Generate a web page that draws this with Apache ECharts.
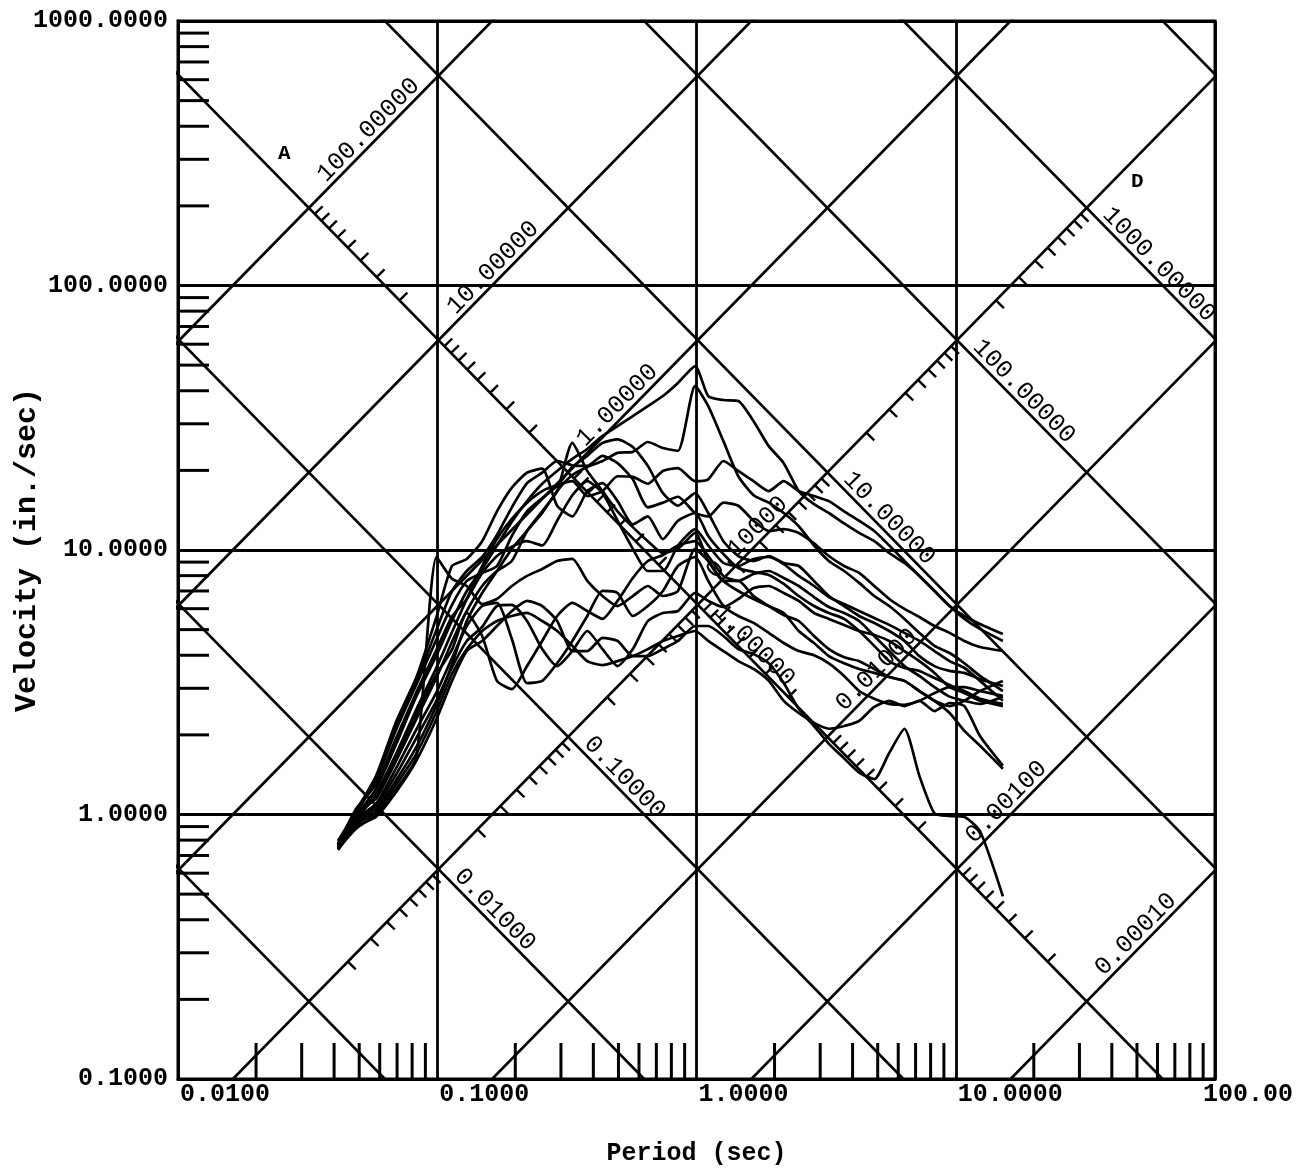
<!DOCTYPE html>
<html>
<head>
<meta charset="utf-8">
<title>Tripartite response spectra</title>
<script src="https://cdn.jsdelivr.net/npm/echarts@6/dist/echarts.min.js"></script>
<style>
html,body{margin:0;padding:0;background:#ffffff;}
#chart{width:1309px;height:1169px;}
</style>
</head>
<body>
<div id="chart"></div>
<script>
// ---------------- data ----------------
const periods = [0.0414,0.0486,0.0581,0.0695,0.0831,0.0994,0.114,0.130,0.149,0.170,0.194,0.222,0.254,0.290,0.332,0.379,0.434,0.496,0.568,0.649,0.742,0.848,0.988,1.11,1.27,1.45,1.66,1.90,2.17,2.48,2.84,3.24,3.71,4.24,4.85,5.54,6.34,7.24,8.28,9.47,10.8,12.4,15.2];

const spectrum01 = [0.754,0.987,1.25,1.85,2.8,4.0,5.4,7.00,8.48,10.4,12.8,15.3,17.8,19.9,22.1,24.1,27.0,29.4,32.1,35.0,38.2,42.8,49.6,38.2,36.9,36.6,30.7,24.7,21.3,16.7,14.9,13.8,12.6,11.6,10.8,9.74,8.93,7.98,7.00,6.14,5.63,5.25,4.81];
const spectrum02 = [0.741,0.930,1.05,1.35,1.8,2.6,3.7,5.39,6.88,8.33,10.1,11.8,13.8,16.7,19.2,20.6,21.7,23.3,23.5,25.6,24.3,23.7,41.7,35.0,25.8,19.0,16.1,15.1,13.8,12.3,10.4,9.09,8.33,7.51,6.70,6.14,5.49,4.86,4.34,4.08,3.73,3.34,2.93];
const spectrum03 = [0.794,1.01,1.15,1.6,2.3,3.3,4.5,5.88,7.31,8.33,9.09,11.8,14.0,16.7,25.4,19.9,16.7,14.0,12.2,10.8,9.74,10.1,11.6,9.09,7.64,7.00,6.53,6.14,5.78,4.94,4.45,3.97,3.73,3.55,3.43,3.31,3.20,2.93,2.69,2.57,2.69,2.93,3.20];
const spectrum04 = [0.775,1.03,1.4,2.25,3.3,5.6,8.7,9.25,10.8,14.0,17.2,19.6,20.3,14.7,13.4,16.7,17.9,15.3,12.5,13.4,11.0,12.9,13.8,11.3,9.66,8.55,8.26,8.05,7.44,6.70,6.14,5.78,5.49,4.94,4.34,3.80,3.58,3.49,3.28,3.09,2.93,2.74,2.62];
const spectrum05 = [0.741,0.884,1.0,1.25,1.65,9.41,7.78,7.31,6.25,6.53,7.31,7.98,8.48,9.09,9.25,7.64,6.70,6.14,6.70,7.31,6.70,7.00,10.1,9.09,7.64,7.64,6.70,6.14,5.68,5.39,4.73,4.22,3.93,3.80,3.55,3.31,3.20,2.93,2.69,2.42,2.07,1.82,1.49];
const spectrum06 = [0.761,0.962,1.1,1.5,2.1,2.9,3.9,5.16,6.14,6.31,4.61,3.14,3.20,3.73,4.53,5.63,7.00,6.88,5.63,6.14,7.00,8.70,9.41,7.64,6.14,5.63,5.30,4.86,4.45,4.15,4.00,3.73,3.34,2.93,2.74,2.62,2.60,2.69,2.88,3.03,3.03,2.93,2.81];
const spectrum07 = [0.735,0.898,0.98,1.22,1.6,2.3,3.2,4.15,4.53,5.16,5.88,6.42,6.14,5.39,4.15,4.15,4.65,4.53,3.97,3.97,4.22,4.53,5.16,5.16,4.73,4.22,4.04,3.73,3.14,2.51,2.16,1.85,1.63,1.44,1.36,1.71,2.11,1.40,1.01,0.987,0.978,0.866,0.49];
const spectrum08 = [0.768,1.05,1.3,1.95,2.9,4.2,5.6,6.53,8.19,9.49,10.3,10.8,10.4,12.9,16.1,18.2,16.4,12.9,10.1,8.33,8.33,10.4,12.0,10.4,8.93,8.70,9.25,9.41,8.85,7.98,7.31,6.64,6.25,5.88,5.53,5.21,4.86,4.53,4.15,3.80,3.58,3.20,2.69];
const spectrum09 = [0.761,0.978,1.2,1.7,2.5,3.6,4.9,6.53,8.70,11.0,13.1,15.1,16.7,17.6,18.2,16.0,16.7,19.0,18.9,17.8,19.9,20.4,18.2,18.5,21.7,19.9,18.2,16.7,18.2,16.7,16.0,15.3,14.0,12.9,11.8,10.4,9.09,7.98,7.00,6.14,5.49,5.03,4.53];
const spectrum10 = [0.754,0.945,1.08,1.42,1.95,2.7,3.6,4.53,5.12,6.14,6.20,5.39,4.22,3.64,4.15,4.94,4.22,3.64,4.22,5.39,5.78,5.88,6.88,6.42,6.09,6.53,7.18,7.31,6.88,6.42,5.78,5.49,5.21,4.94,4.77,4.53,4.15,3.80,3.43,3.03,2.88,2.69,2.57];
const spectrum11 = [0.748,0.962,1.18,1.65,2.4,3.4,4.2,5.78,4.73,3.20,2.98,3.64,4.53,5.63,6.31,5.88,5.49,6.42,7.84,9.09,9.58,10.4,10.8,9.49,7.98,7.64,8.12,8.33,7.84,7.31,6.64,6.09,5.78,5.39,4.73,4.15,3.64,3.34,3.03,2.79,2.69,2.62,2.79];
const spectrum12 = [0.775,1.01,1.38,2.2,3.2,5.0,7.0,8.33,9.41,11.4,14.5,17.9,19.6,21.7,20.9,20.8,22.7,21.3,18.5,14.5,15.1,15.9,13.8,13.4,15.1,14.7,12.9,11.8,12.0,11.6,10.6,9.49,8.70,8.19,7.31,6.53,5.99,5.58,5.16,4.86,4.53,4.30,4.15];
const spectrum13 = [0.741,0.915,1.02,1.3,1.7,2.45,3.4,4.22,4.94,5.39,5.63,5.78,5.39,4.94,4.34,3.80,3.67,3.80,3.97,4.22,4.53,4.73,4.94,4.53,4.15,3.80,3.55,3.20,2.69,2.42,2.22,2.11,2.16,2.26,2.55,2.69,2.57,2.69,2.46,2.64,2.57,1.98,1.53];
const spectrum14 = [0.768,1.01,1.35,2.1,3.1,4.6,6.2,7.64,8.19,8.70,11.3,14.0,15.7,17.5,20.6,22.7,25.4,26.2,24.5,20.8,16.4,14.7,16.4,13.8,10.8,9.49,9.09,9.49,8.93,8.70,7.64,6.70,6.14,5.63,5.30,4.94,4.53,3.97,3.64,3.49,3.43,3.25,3.06];
const spectra = [spectrum01,spectrum02,spectrum03,spectrum04,spectrum05,spectrum06,spectrum07,
                 spectrum08,spectrum09,spectrum10,spectrum11,spectrum12,spectrum13,spectrum14];

const xTickValues = [0.01, 0.1, 1, 10, 100];
const xTickLabels = ['0.0100', '0.1000', '1.0000', '10.0000', '100.00'];
const yTickValues = [0.1, 1, 10, 100, 1000];
const yTickLabels = ['0.1000', '1.0000', '10.0000', '100.0000', '1000.0000'];
const minorSteps = [2, 3, 4, 5, 6, 7, 8, 9];
const xDecades = [0.01, 0.1, 1, 10];
const yDecades = [0.1, 1, 10, 100];

const dispGridValues = [0.001, 0.01, 0.1, 1, 10, 100, 1000, 10000];   // in.
const accGridValues = [0.0001, 0.001, 0.01, 0.1, 1, 10, 100];         // g
const dispLabelValues = [0.01, 0.1, 1, 10, 100, 1000];
const dispLabelTexts = ['0.01000', '0.10000', '1.00000', '10.00000', '100.00000', '1000.00000'];
const accLabelValues = [0.0001, 0.001, 0.01, 0.1, 1, 10, 100];
const accLabelTexts = ['0.00010', '0.00100', '0.01000', '0.10000', '1.00000', '10.00000', '100.00000'];
const dispTickDecades = [0.001, 0.01, 0.1, 1, 10, 100];
const accTickDecades = [0.0001, 0.001, 0.01, 0.1, 1, 10];
const accScaleOnDisp = 1;    // acceleration scale is drawn along the D = 1 in. line
const dispScaleOnAcc = 0.1;  // displacement scale is drawn along the A = 0.1 g line
const xTitle = 'Period (sec)';
const yTitle = 'Velocity (in./sec)';

// ---------------- helpers (physics of the tripartite grid) ----------------
const TWO_PI = 2 * Math.PI;
const G = 386.09; // in/s^2
const vFromDisp = (D, T) => TWO_PI * D / T;
const vFromAcc = (A, T) => A * G * T / TWO_PI;
const meetPeriod = (D, A) => TWO_PI * Math.sqrt(D / (A * G));
const expand = (decades) => { const out = []; decades.forEach(d => minorSteps.forEach(m => out.push(+(d * m).toPrecision(6)))); return out; };

const INK = '#000000';
const MONO = '"Liberation Mono", "DejaVu Sans Mono", monospace';

// ---------------- series ----------------
const series = [];

// diagonal grid: constant displacement (slope -1) and constant acceleration (slope +1)
const farT = [0.001, 1000];
dispGridValues.forEach(D => series.push({
  type: 'line', silent: true, clip: true, symbol: 'none', animation: false, z: 3,
  data: farT.map(t => [t, vFromDisp(D, t)]),
  lineStyle: { color: INK, width: 2.7 }
}));
accGridValues.forEach(A => series.push({
  type: 'line', silent: true, clip: true, symbol: 'none', animation: false, z: 3,
  data: farT.map(t => [t, vFromAcc(A, t)]),
  lineStyle: { color: INK, width: 2.7 }
}));

// response spectra
spectra.forEach(arr => series.push({
  type: 'line', silent: true, clip: true, symbol: 'none', showSymbol: false,
  smooth: 0.2, animation: false, z: 5,
  data: periods.map((t, i) => [t, arr[i]]),
  lineStyle: { color: INK, width: 2.7 }
}));

function unitDir(p0, p1) {
  let ux = p1[0] - p0[0], uy = p1[1] - p0[1];
  const L = Math.hypot(ux, uy); return [ux / L, uy / L];
}

// acceleration scale ticks along D = 1 line (pointing to the upper-right)
series.push({
  type: 'custom', silent: true, animation: false, z: 4,
  data: expand(accTickDecades).map(A => { const T = meetPeriod(accScaleOnDisp, A); return [T, vFromDisp(accScaleOnDisp, T)]; }),
  renderItem: (params, api) => {
    const T = api.value(0), V = api.value(1);
    const p0 = api.coord([T, V]);
    const p1 = api.coord([T * 1.1, vFromDisp(accScaleOnDisp, T * 1.1)]);
    const u = unitDir(p0, p1); const n = [u[1], -u[0]];
    return { type: 'line', shape: { x1: p0[0], y1: p0[1], x2: p0[0] + n[0] * 11, y2: p0[1] + n[1] * 11 },
             style: { stroke: INK, lineWidth: 2.4 } };
  }
});
// displacement scale ticks along A = 0.1 g line (pointing to the lower-right)
series.push({
  type: 'custom', silent: true, animation: false, z: 4,
  data: expand(dispTickDecades).map(D => { const T = meetPeriod(D, dispScaleOnAcc); return [T, vFromAcc(dispScaleOnAcc, T)]; }),
  renderItem: (params, api) => {
    const T = api.value(0), V = api.value(1);
    const p0 = api.coord([T, V]);
    const p1 = api.coord([T * 1.1, vFromAcc(dispScaleOnAcc, T * 1.1)]);
    const u = unitDir(p0, p1); const n = [-u[1], u[0]];
    return { type: 'line', shape: { x1: p0[0], y1: p0[1], x2: p0[0] + n[0] * 11, y2: p0[1] + n[1] * 11 },
             style: { stroke: INK, lineWidth: 2.4 } };
  }
});
// acceleration labels along the A lines
series.push({
  type: 'custom', silent: true, animation: false, z: 6,
  data: accLabelValues.map((A, i) => { const T = meetPeriod(accScaleOnDisp, A); return [T, vFromDisp(accScaleOnDisp, T), i]; }),
  renderItem: (params, api) => {
    const T = api.value(0), V = api.value(1), i = api.value(2);
    const A = accLabelValues[i];
    const p0 = api.coord([T, V]);
    const p1 = api.coord([T * 1.1, vFromAcc(A, T * 1.1)]);
    const u = unitDir(p0, p1); const n = [u[1], -u[0]];
    const d = 30, h = 12;
    return { type: 'text', x: p0[0] + u[0] * d + n[0] * h, y: p0[1] + u[1] * d + n[1] * h,
             rotation: -Math.atan2(u[1], u[0]),
             style: { text: accLabelTexts[i], fill: INK, font: '25px ' + MONO, align: 'left', verticalAlign: 'middle' } };
  }
});
// displacement labels along the D lines
series.push({
  type: 'custom', silent: true, animation: false, z: 6,
  data: dispLabelValues.map((D, i) => { const T = meetPeriod(D, dispScaleOnAcc); return [T, vFromAcc(dispScaleOnAcc, T), i]; }),
  renderItem: (params, api) => {
    const T = api.value(0), V = api.value(1), i = api.value(2);
    const D = dispLabelValues[i];
    const p0 = api.coord([T, V]);
    const p1 = api.coord([T * 1.1, vFromDisp(D, T * 1.1)]);
    const u = unitDir(p0, p1); const n = [u[1], -u[0]];
    const d = 16, h = 12;
    return { type: 'text', x: p0[0] + u[0] * d + n[0] * h, y: p0[1] + u[1] * d + n[1] * h,
             rotation: -Math.atan2(u[1], u[0]),
             style: { text: dispLabelTexts[i], fill: INK, font: '25px ' + MONO, align: 'left', verticalAlign: 'middle' } };
  }
});
// minor ticks on the left frame
series.push({
  type: 'custom', silent: true, animation: false, z: 4,
  data: expand(yDecades).map(v => [xTickValues[0], v]),
  renderItem: (params, api) => {
    const p = api.coord([api.value(0), api.value(1)]);
    return { type: 'line', shape: { x1: p[0], y1: p[1], x2: p[0] + 31, y2: p[1] }, style: { stroke: INK, lineWidth: 3 } };
  }
});
// minor ticks on the bottom frame
series.push({
  type: 'custom', silent: true, animation: false, z: 4,
  data: expand(xDecades).map(t => [t, yTickValues[0]]),
  renderItem: (params, api) => {
    const p = api.coord([api.value(0), api.value(1)]);
    return { type: 'line', shape: { x1: p[0], y1: p[1], x2: p[0], y2: p[1] - 36 }, style: { stroke: INK, lineWidth: 3 } };
  }
});
// period tick labels (left-aligned at their ticks, last one pulled inside)
series.push({
  type: 'custom', silent: true, animation: false, z: 6,
  data: xTickValues.map((t, i) => [t, yTickValues[0], i]),
  renderItem: (params, api) => {
    const i = api.value(2);
    const p = api.coord([api.value(0), api.value(1)]);
    const last = i === xTickValues.length - 1;
    return { type: 'text', x: last ? p[0] + 78 : p[0] + 2, y: p[1] + 16,
             style: { text: xTickLabels[i], fill: INK, font: 'bold 25px ' + MONO, align: last ? 'right' : 'left', verticalAlign: 'middle' } };
  }
});

const option = {
  animation: false,
  backgroundColor: '#ffffff',
  grid: { left: 178, right: 94, top: 21, bottom: 90, containLabel: false, outerBoundsMode: 'none',
          show: true, borderColor: INK, borderWidth: 3, backgroundColor: 'transparent' },
  xAxis: {
    type: 'log', logBase: 10, min: 0.01, max: 100,
    name: xTitle, nameLocation: 'middle', nameGap: 62, nameMoveOverlap: false,
    nameTextStyle: { color: INK, fontFamily: MONO, fontWeight: 'bold', fontSize: 25 },
    axisLine: { show: true, lineStyle: { color: INK, width: 3 } },
    axisTick: { show: false },
    axisLabel: { show: false },
    splitLine: { show: true, lineStyle: { color: INK, width: 2.8 } }
  },
  yAxis: {
    type: 'log', logBase: 10, min: 0.1, max: 1000,
    name: yTitle, nameLocation: 'middle', nameGap: 136, nameRotate: 90, nameMoveOverlap: false,
    nameTextStyle: { color: INK, fontFamily: MONO, fontWeight: 'bold', fontSize: 30 },
    axisLine: { show: true, lineStyle: { color: INK, width: 3 } },
    axisTick: { show: false },
    axisLabel: {
      show: true, margin: 10, color: INK, fontFamily: MONO, fontWeight: 'bold', fontSize: 25,
      formatter: (v) => {
        const k = yTickValues.findIndex(t => Math.abs(Math.log10(t) - Math.log10(v)) < 1e-6);
        return k >= 0 ? yTickLabels[k] : '';
      }
    },
    splitLine: { show: true, lineStyle: { color: INK, width: 2.8 } }
  },
  graphic: [
    { type: 'text', left: 278, top: 143, style: { text: 'A', fill: INK, font: 'bold 21px ' + MONO } },
    { type: 'text', left: 1131, top: 171, style: { text: 'D', fill: INK, font: 'bold 21px ' + MONO } }
  ],
  series: series
};

const chart = echarts.init(document.getElementById('chart'), null, { renderer: 'canvas' });
chart.setOption(option);
</script>
</body>
</html>
